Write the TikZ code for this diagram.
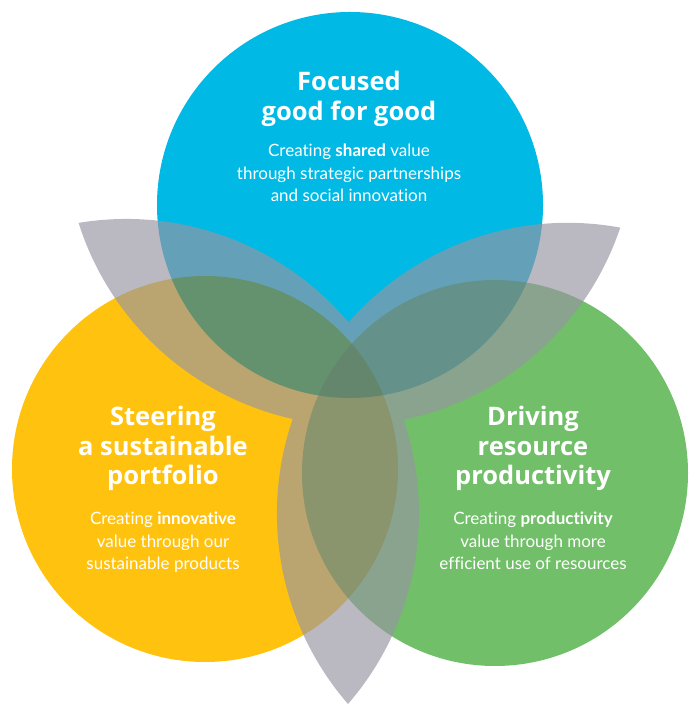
\documentclass[tikz,border=0pt]{standalone}
\usepackage{fontspec}
\setmainfont{Lato}[Ligatures=NoCommon]
\newfontfamily\headfont{Open Sans}[Ligatures=NoCommon]
\definecolor{focusblue}{RGB}{0,185,228}
\definecolor{steeryellow}{RGB}{255,194,14}
\definecolor{drivegreen}{RGB}{113,191,104}
\definecolor{leafgrey}{RGB}{151,150,162}
\tikzset{
  leaf/.style={fill=leafgrey, fill opacity=0.664},
  heading/.style={text=white, align=center, inner sep=0pt, anchor=north,
    font=\headfont\fontsize{25.5}{29.5}\selectfont\bfseries},
  blurb/.style={text=white, align=center, inner sep=0pt, anchor=north,
    font=\fontsize{17}{22.5}\selectfont},
}

\begin{document}
\begin{tikzpicture}[x=1pt,y=1pt]
  \useasboundingbox (0,0) rectangle (700,727);

  % the three circles
  \begin{scope}[blend mode=multiply]
    \fill[focusblue] (350,522) circle (193pt);
    \fill[steeryellow] (205,258) circle (193pt);
    \fill[drivegreen] (495,254) circle (193pt);
  \end{scope}

  % grey leaves
  \begin{scope}[shift={(348,339)}]
    \fill[leaf] foreach \a in {-90,30.5,148.5} {
      (\a:316pt) arc[start angle=\a+49.1, end angle=\a+130.9, radius=291pt]
                 arc[start angle=\a+229.1, end angle=\a+310.9, radius=291pt] -- cycle};
  \end{scope}

  \node[heading] (focus) at (349,656) {Focused\\good for good};
  \node[blurb] (focustext) at (349,583) {Creating \textbf{shared} value\\through strategic partnerships\\and social innovation};

  \node[heading] (steer) at (163,321) {Steering\\a sustainable\\portfolio};
  \node[blurb] (steertext) at (163,215) {Creating \textbf{innovative}\\value through our\\sustainable products};

  \node[heading] (drive) at (533,321) {Driving\\resource\\productivity};
  \node[blurb] (drivetext) at (533,215) {Creating \textbf{productivity}\\value through more\\efficient use of resources};
\end{tikzpicture}
\end{document}
